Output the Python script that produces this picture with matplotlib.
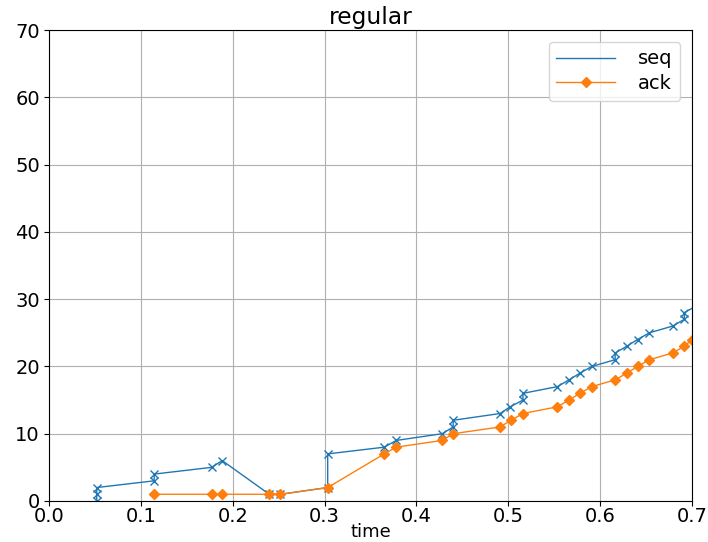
import matplotlib
matplotlib.use("Agg")
import matplotlib.pyplot as plt

# seq packets sent (time, seq number)
seq_t = [0.052, 0.052, 0.052, 0.1145, 0.1145, 0.177, 0.1886, 0.2398, 0.252,
         0.3034, 0.3034, 0.365, 0.378, 0.428, 0.440, 0.440, 0.491, 0.502,
         0.516, 0.516, 0.5535, 0.566, 0.578, 0.591, 0.6163, 0.6163, 0.629,
         0.6407, 0.6537, 0.679, 0.6916, 0.6916, 0.705]
seq_v = [0, 1, 2, 3, 4, 5, 6, 1, 1,
         2, 7, 8, 9, 10, 11, 12, 13, 14,
         15, 16, 17, 18, 19, 20, 21, 22, 23,
         24, 25, 26, 27, 28, 29]

# acks received
ack_t = [0.1145, 0.177, 0.1888, 0.2398, 0.252, 0.3034, 0.365, 0.378, 0.428,
         0.440, 0.491, 0.503, 0.516, 0.5535, 0.566, 0.578, 0.591, 0.6163,
         0.629, 0.6407, 0.6537, 0.679, 0.6916, 0.700]
ack_v = [1, 1, 1, 1, 1, 2, 7, 8, 9,
         10, 11, 12, 13, 14, 15, 16, 17, 18,
         19, 20, 21, 22, 23, 24]

plt.rcParams['font.size'] = 14

fig = plt.figure(figsize=(7.08, 5.42), dpi=100)
ax = fig.add_axes([49 / 708, 1 - 501 / 542, 643 / 708, 471 / 542])

ax.plot(seq_t, seq_v, color='C0', linewidth=1, label='seq')
ax.plot(seq_t, seq_v, color='C0', linestyle='none', marker='x', markersize=6)
ax.plot(ack_t, ack_v, color='C1', linewidth=1, marker='D', markersize=5, label='ack')

ax.set_xlim(0, 0.7)
ax.set_ylim(0, 70)
ax.set_title("regular", pad=4)
ax.set_xlabel("time", fontsize=13, labelpad=-2)
ax.tick_params(axis='x', pad=1)
ax.tick_params(axis='y', pad=3)
ax.grid(True)
ax.legend(loc='upper right', handlelength=3.0, handletextpad=1.2,
          labelspacing=0.3, borderaxespad=0.6)

plt.savefig("out.png", dpi=100)
plt.close()
